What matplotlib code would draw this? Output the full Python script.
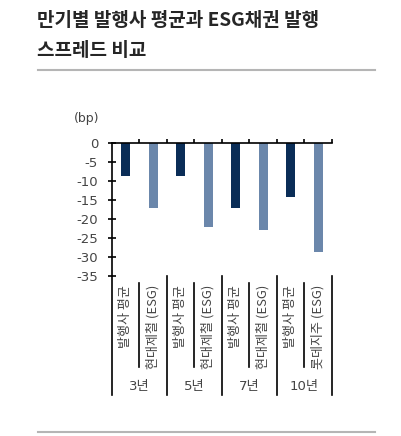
import matplotlib
matplotlib.use("Agg")
import matplotlib.pyplot as plt
from matplotlib.lines import Line2D

plt.rcParams['font.family'] = ['Noto Sans CJK KR', 'DejaVu Sans']

title = "만기별 발행사 평균과 ESG채권 발행\n스프레드 비교"
unit = "(bp)"
groups = ["3년", "5년", "7년", "10년"]
categories = ["발행사 평균", "현대제철 (ESG)",
              "발행사 평균", "현대제철 (ESG)",
              "발행사 평균", "현대제철 (ESG)",
              "발행사 평균", "롯데지주 (ESG)"]
values = [-8.7, -17.0, -8.7, -22.2, -17.0, -23.0, -14.2, -28.8]
yticks = [0, -5, -10, -15, -20, -25, -30, -35]

dark = "#0a2d57"
light = "#6b87ab"
colors = [dark if i % 2 == 0 else light for i in range(len(values))]

W, H = 402, 436
fig = plt.figure(figsize=(W / 100, H / 100), dpi=100)

def fx(px):
    return px / W

def fy(py):
    return 1 - py / H

# title and rules
fig.text(fx(37), fy(11), title, ha='left', va='top', fontsize=13.7,
         fontweight='bold', color='#262626', linespacing=1.7)
fig.add_artist(Line2D([fx(38), fx(375)], [fy(70), fy(70)], color='#b5b5b5', lw=1.5))
fig.add_artist(Line2D([fx(38), fx(375)], [fy(432), fy(432)], color='#b5b5b5', lw=1.5))

ax = fig.add_axes([fx(112), fy(276), fx(332) - fx(112), (276 - 143) / H])
x = list(range(len(values)))
ax.bar(x, values, width=0.34, color=colors)
ax.set_xlim(-0.5, len(values) - 0.5)
ax.set_ylim(-35, 0)

for s in ['right', 'bottom']:
    ax.spines[s].set_visible(False)
ax.spines['left'].set_linewidth(1.2)
ax.spines['top'].set_linewidth(1.2)
ax.spines['left'].set_bounds(-35, 0)

ax.set_yticks(yticks)
ax.set_yticklabels([str(v) for v in yticks], fontsize=9.5, color='#444444',
                   family='DejaVu Sans')
ax.tick_params(axis='y', direction='inout', length=6, width=1.2, pad=7)
ax.xaxis.tick_top()
ax.set_xticks([i + 0.5 for i in range(len(values))])
ax.set_xticklabels([])
ax.tick_params(axis='x', direction='out', length=3, width=1.2)

fig.text(fx(74), fy(118), unit, ha='left', va='center', fontsize=9,
         color='#444444', family='DejaVu Sans')

# bottom table lines (in data coords, unclipped)
def py2d(py):
    return -(py - 143) / 3.8

ax.plot([-0.5, -0.5], [-35, py2d(395)], color='black', lw=1.2, clip_on=False)
for i in range(len(values)):
    b = i + 0.5
    if i % 2 == 1:
        ax.plot([b, b], [-35, py2d(395)], color='black', lw=1.2, clip_on=False)
    else:
        ax.plot([b, b], [py2d(283), py2d(367)], color='black', lw=1.2, clip_on=False)

for i, c in enumerate(categories):
    ax.text(i, py2d(285), c, rotation=90, ha='center', va='top', fontsize=9.4,
            color='#444444', clip_on=False)
for g, name in enumerate(groups):
    ax.text(2 * g + 0.5, py2d(386), name, ha='center', va='center', fontsize=9.5,
            color='#444444', clip_on=False, family=['DejaVu Sans', 'Noto Sans CJK KR'])

fig.savefig("out.png", dpi=100)
